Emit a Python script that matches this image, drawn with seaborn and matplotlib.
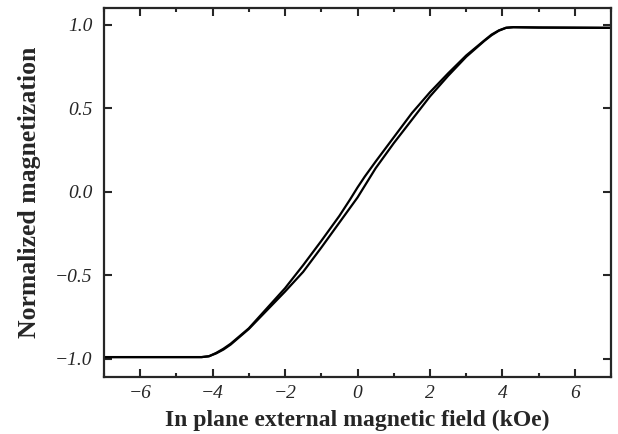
import numpy as np
import pandas as pd
import seaborn as sns
import matplotlib.pyplot as plt
from matplotlib.ticker import MultipleLocator

# field values (kOe) and the two branches of the loop
field = [-7.0, -5.0, -4.3, -4.1, -3.9, -3.7, -3.5, -3.0, -2.5, -2.0, -1.5, -1.0,
         -0.5, -0.2, 0.0, 0.2, 0.5, 1.0, 1.5, 2.0, 2.5, 3.0, 3.5, 3.7, 3.9, 4.1,
         4.3, 5.0, 7.0]
m_up = [-0.99, -0.99, -0.99, -0.985, -0.968, -0.945, -0.915, -0.822, -0.71,
        -0.598, -0.48, -0.335, -0.185, -0.095, -0.035, 0.035, 0.14, 0.29, 0.43,
        0.57, 0.693, 0.807, 0.902, 0.936, 0.963, 0.98, 0.984, 0.982, 0.98]
m_down = [-0.99, -0.99, -0.99, -0.985, -0.965, -0.94, -0.91, -0.818, -0.698,
          -0.578, -0.44, -0.295, -0.145, -0.045, 0.025, 0.09, 0.18, 0.325, 0.47,
          0.595, 0.708, 0.815, 0.905, 0.94, 0.965, 0.981, 0.984, 0.982, 0.98]

xticks = [-6, -4, -2, 0, 2, 4, 6]
yticks = [-1.0, -0.5, 0.0, 0.5, 1.0]

df = pd.concat([
    pd.DataFrame({"H": field, "M": m_up, "branch": "up"}),
    pd.DataFrame({"H": field, "M": m_down, "branch": "down"}),
])

sns.set_style("ticks")
plt.rcParams['font.family'] = ['Liberation Serif', 'DejaVu Serif']

fig = plt.figure(figsize=(6.18, 4.34), dpi=100)
ax = fig.add_axes([0.168, 0.131, 0.821, 0.851])

sns.lineplot(data=df, x="H", y="M", units="branch", estimator=None, sort=False,
             color="black", linewidth=1.6, ax=ax)

ax.set_xlim(-7, 7)
ax.set_ylim(-1.11, 1.10)
ax.set_xticks(xticks)
ax.set_xticklabels([f"{t}".replace("-", "\u2212") for t in xticks],
                   fontstyle="italic", fontsize=14)
ax.xaxis.set_minor_locator(MultipleLocator(1))
ax.set_yticks(yticks)
ax.set_yticklabels([f"{t:.1f}".replace("-", "\u2212") for t in yticks],
                   fontstyle="italic", fontsize=14)

ax.tick_params(which="both", direction="in", top=True, right=True, width=1.5)
ax.tick_params(which="major", length=6)
ax.tick_params(which="minor", length=3)
ax.tick_params(axis="x", which="major", pad=6)
ax.tick_params(axis="y", which="major", pad=8)
for s in ax.spines.values():
    s.set_linewidth(1.6)

ax.set_xlabel("In plane external magnetic field (kOe)", fontsize=17,
              fontweight="bold", labelpad=5)
ax.set_ylabel("Normalized magnetization", fontsize=18.5, fontweight="bold",
              labelpad=10)

fig.savefig("out.png", dpi=100)
